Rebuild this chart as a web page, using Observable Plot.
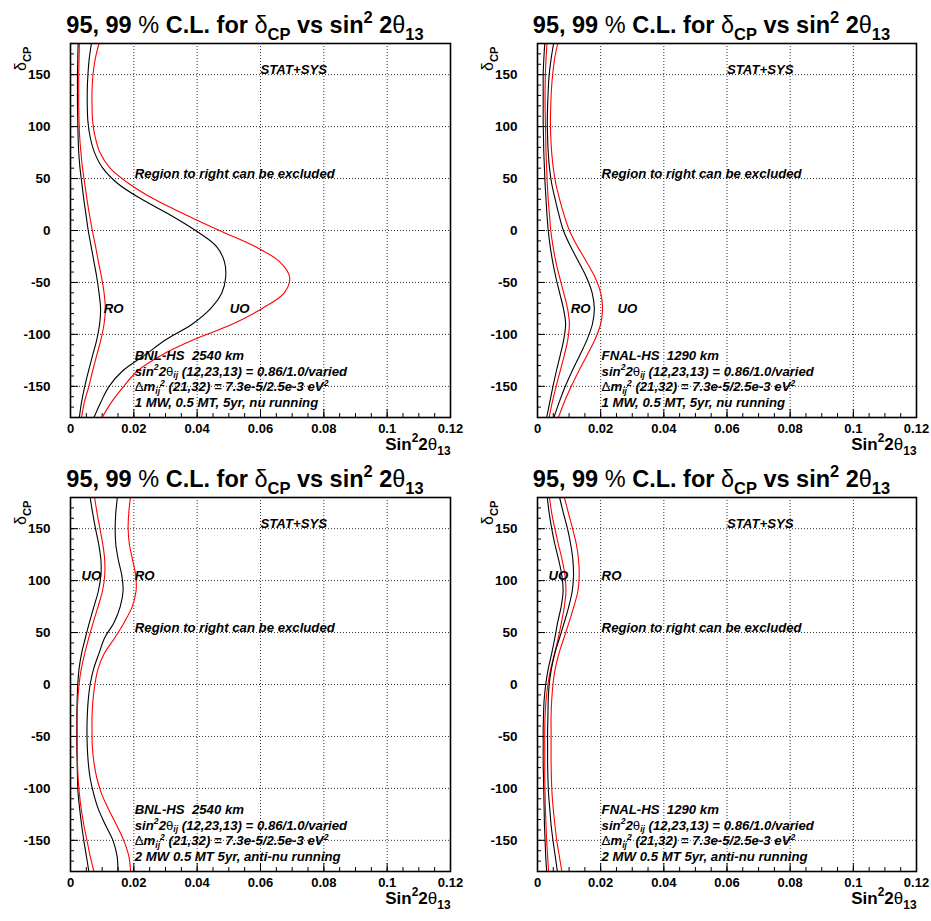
<!DOCTYPE html>
<html><head><meta charset="utf-8">
<script src="https://cdn.jsdelivr.net/npm/d3@7"></script>
<script src="https://cdn.jsdelivr.net/npm/@observablehq/plot@0.6"></script>
<style>
html,body{margin:0;padding:0;background:#fff;}
#root{position:relative;width:931px;height:921px;overflow:hidden;background:#fff;}
#root svg{position:absolute;overflow:visible;}
</style></head><body><div id="root"></div>
<script>
// ---- data (x = sin^2 2theta13 at each deltaCP) ----
const deltaCP = [180,165,150,135,120,105,90,75,60,45,30,15,0,-15,-30,-45,-60,-75,-90,-105,-120,-135,-150,-165,-180];

const bnlNuRO95 = [0.0024,0.0023,0.0022,0.0022,0.0022,0.0023,0.0024,0.0026,0.0030,0.0036,0.0042,0.0049,0.0056,0.0065,0.0074,0.0083,0.0090,0.0095,0.0092,0.0083,0.0070,0.0057,0.0045,0.0035,0.0028];
const bnlNuRO99 = [0.0028,0.0027,0.0026,0.0026,0.0026,0.0027,0.0029,0.0033,0.0038,0.0045,0.0052,0.0060,0.0069,0.0079,0.0088,0.0098,0.0106,0.0110,0.0106,0.0096,0.0083,0.0070,0.0058,0.0044,0.0035];
const bnlNuUO95 = [0.0066,0.0059,0.0055,0.0053,0.0053,0.0055,0.0062,0.0076,0.0102,0.0150,0.0225,0.0315,0.0395,0.0460,0.0486,0.0490,0.0478,0.0443,0.0385,0.0302,0.0234,0.0165,0.0122,0.0096,0.0074];
const bnlNuUO99 = [0.0090,0.0078,0.0071,0.0068,0.0068,0.0070,0.0078,0.0093,0.0125,0.0185,0.0265,0.0365,0.0470,0.0580,0.0660,0.0692,0.0675,0.0605,0.0512,0.0390,0.0287,0.0212,0.0168,0.0130,0.0100];

const fnalNuRO95 = [0.0023,0.0020,0.0018,0.0018,0.0018,0.0018,0.0019,0.0020,0.0022,0.0024,0.0027,0.0030,0.0034,0.0040,0.0048,0.0058,0.0070,0.0082,0.0089,0.0083,0.0072,0.0060,0.0049,0.0039,0.0029];
const fnalNuRO99 = [0.0030,0.0027,0.0025,0.0024,0.0024,0.0025,0.0026,0.0027,0.0029,0.0031,0.0034,0.0038,0.0042,0.0049,0.0058,0.0070,0.0083,0.0095,0.0101,0.0096,0.0085,0.0072,0.0059,0.0047,0.0037];
const fnalNuUO95 = [0.0051,0.0043,0.0037,0.0034,0.0032,0.0031,0.0032,0.0034,0.0038,0.0045,0.0056,0.0068,0.0082,0.0104,0.0130,0.0155,0.0173,0.0180,0.0174,0.0157,0.0134,0.0110,0.0088,0.0069,0.0052];
const fnalNuUO99 = [0.0064,0.0054,0.0048,0.0044,0.0042,0.0041,0.0042,0.0045,0.0050,0.0058,0.0070,0.0084,0.0101,0.0126,0.0155,0.0182,0.0200,0.0206,0.0200,0.0182,0.0157,0.0131,0.0107,0.0085,0.0066];

const bnlAntiUO95 = [0.0062,0.0070,0.0079,0.0089,0.0096,0.0096,0.0088,0.0074,0.0060,0.0047,0.0035,0.0027,0.0023,0.0021,0.0020,0.0020,0.0020,0.0021,0.0022,0.0024,0.0029,0.0035,0.0042,0.0050,0.0058];
const bnlAntiUO99 = [0.0076,0.0084,0.0093,0.0102,0.0108,0.0108,0.0101,0.0087,0.0072,0.0058,0.0045,0.0034,0.0027,0.0023,0.0021,0.0021,0.0021,0.0022,0.0024,0.0028,0.0034,0.0042,0.0052,0.0062,0.0074];
const bnlAntiRO95 = [0.0148,0.0143,0.0141,0.0143,0.0151,0.0162,0.0166,0.0157,0.0138,0.0108,0.0090,0.0073,0.0062,0.0056,0.0053,0.0052,0.0053,0.0056,0.0062,0.0073,0.0088,0.0110,0.0134,0.0147,0.0150];
const bnlAntiRO99 = [0.0189,0.0184,0.0182,0.0186,0.0196,0.0206,0.0207,0.0195,0.0170,0.0140,0.0107,0.0087,0.0077,0.0071,0.0068,0.0068,0.0069,0.0074,0.0083,0.0098,0.0120,0.0145,0.0168,0.0184,0.0190];

const fnalAntiUO95 = [0.0031,0.0037,0.0045,0.0055,0.0067,0.0077,0.0081,0.0075,0.0064,0.0055,0.0045,0.0034,0.0026,0.0021,0.0019,0.0018,0.0018,0.0018,0.0019,0.0020,0.0021,0.0022,0.0024,0.0026,0.0029];
const fnalAntiUO99 = [0.0038,0.0045,0.0055,0.0066,0.0078,0.0087,0.0090,0.0085,0.0076,0.0066,0.0054,0.0042,0.0033,0.0027,0.0024,0.0023,0.0023,0.0023,0.0023,0.0024,0.0025,0.0027,0.0029,0.0032,0.0035];
const fnalAntiRO95 = [0.0070,0.0082,0.0095,0.0105,0.0112,0.0114,0.0110,0.0099,0.0085,0.0070,0.0055,0.0044,0.0037,0.0034,0.0033,0.0032,0.0032,0.0032,0.0033,0.0035,0.0039,0.0043,0.0049,0.0056,0.0063];
const fnalAntiRO99 = [0.0085,0.0098,0.0111,0.0123,0.0130,0.0132,0.0128,0.0115,0.0100,0.0084,0.0068,0.0056,0.0049,0.0045,0.0043,0.0043,0.0043,0.0043,0.0044,0.0046,0.0050,0.0055,0.0061,0.0069,0.0077];

// ---- ticks and labels ----
const xTicks = [0, 0.02, 0.04, 0.06, 0.08, 0.1, 0.12];
const yTicks = [-150, -100, -50, 0, 50, 100, 150];
const xGrid = [0.02, 0.04, 0.06, 0.08, 0.1];
const yGrid = [-150, -100, -50, 0, 50, 100, 150];
const xMinor = d3.range(1, 24).map(i => +(i * 0.005).toFixed(3));
const yMinor = d3.range(-17, 18).map(i => i * 10);

const titleLabel = "95, 99 !{%} C.L. for !{δ}_{CP} vs sin^{2} 2!{θ}_{13}";
const xLabel = "Sin^{2}2!{θ}_{13}";
const yLabel = "!{δ}_{CP}";
const statLabel = "STAT+SYS";
const regionLabel = "Region to right can be excluded";
const mixLine = "sin^{2}2!{θ}_{ij} (12,23,13) = 0.86/1.0/varied";
const massLine = "!{Δ}m_{ij}^{2} (21,32) = 7.3e-5/2.5e-3 eV^{2}";
const bnlLine = "BNL-HS  2540 km";
const fnalLine = "FNAL-HS  1290 km";
const nuLine = "1 MW, 0.5 MT, 5yr, nu running";
const antiLine = "2 MW 0.5 MT 5yr, anti-nu running";

const panels = [
  {left: 0, top: 0, width: 465, height: 460, ml: 70, mr: 15, mt: 43, mb: 43,
   curves: [[bnlNuRO95, "black"], [bnlNuRO99, "red"], [bnlNuUO95, "black"], [bnlNuUO99, "red"]],
   tags: [{x: 0.0105, y: -75.6, t: "RO"}, {x: 0.0503, y: -75.6, t: "UO"}],
   site: bnlLine, run: nuLine},
  {left: 465, top: 0, width: 466, height: 460, ml: 72, mr: 15, mt: 43, mb: 43,
   curves: [[fnalNuRO95, "black"], [fnalNuRO99, "red"], [fnalNuUO95, "black"], [fnalNuUO99, "red"]],
   tags: [{x: 0.0105, y: -75.6, t: "RO"}, {x: 0.0253, y: -75.6, t: "UO"}],
   site: fnalLine, run: nuLine},
  {left: 0, top: 460, width: 465, height: 461, ml: 70, mr: 15, mt: 37, mb: 50,
   curves: [[bnlAntiUO95, "black"], [bnlAntiUO99, "red"], [bnlAntiRO95, "black"], [bnlAntiRO99, "red"]],
   tags: [{x: 0.0035, y: 104.5, t: "UO"}, {x: 0.0203, y: 104.5, t: "RO"}],
   site: bnlLine, run: antiLine},
  {left: 465, top: 460, width: 466, height: 461, ml: 72, mr: 15, mt: 37, mb: 50,
   curves: [[fnalAntiUO95, "black"], [fnalAntiUO99, "red"], [fnalAntiRO95, "black"], [fnalAntiRO99, "red"]],
   tags: [{x: 0.0035, y: 104.5, t: "UO"}, {x: 0.0203, y: 104.5, t: "RO"}],
   site: fnalLine, run: antiLine}
];

const FONT = "'Liberation Sans', Arimo, Arial, Helvetica, sans-serif";

function drawPanel(p) {
  const fw = p.width - p.ml - p.mr, fh = p.height - p.mt - p.mb;
  const notes = [
    {x: 0.06, y: 154.5, t: statLabel},
    {x: 0.0203, y: 54.5, t: regionLabel},
    ...p.tags,
    {x: 0.0203, y: -121, t: p.site},
    {x: 0.0203, y: -135.5, t: mixLine},
    {x: 0.0203, y: -150.5, t: massLine},
    {x: 0.0203, y: -166, t: p.run}
  ];
  const marks = [
    Plot.ruleX(xGrid, {x: d => d, stroke: "#000", strokeOpacity: 0.8, strokeDasharray: "1,2"}),
    Plot.ruleY(yGrid, {y: d => d, stroke: "#000", strokeOpacity: 0.8, strokeDasharray: "1,2"}),
    Plot.tickX(xMinor, {x: d => d, insetTop: fh - 4, stroke: "#000"}),
    Plot.tickX(xTicks, {x: d => d, insetTop: fh - 8, stroke: "#000"}),
    Plot.tickY(yMinor, {y: d => d, insetRight: fw - 4, stroke: "#000"}),
    Plot.tickY(yTicks, {y: d => d, insetRight: fw - 8, stroke: "#000"}),
    ...p.curves.map(([vals, color]) =>
      Plot.line(deltaCP.map((y, i) => ({x: vals[i], y})),
        {x: "x", y: "y", stroke: color, strokeWidth: 1.1, curve: "catmull-rom"})),
    Plot.frame({stroke: "#000", strokeWidth: 1.6}),
    Plot.axisX(xTicks, {tickSize: 0, tickPadding: 6, tickFormat: d => String(d), fontSize: 13, fontWeight: "bold", label: null}),
    Plot.axisY(yTicks, {tickSize: 0, tickPadding: 20, tickFormat: d => String(d), fontSize: 13.5, fontWeight: "bold", label: null}),
    Plot.text(notes, {x: "x", y: "y", text: "t", textAnchor: "start", fontSize: 13.2, fontWeight: "bold", fontStyle: "italic", fill: "#000"}),
    Plot.text([titleLabel], {text: d => d, frameAnchor: "top", dx: -15.5, dy: -27, fontSize: 23.5, fontWeight: "bold", fill: "#000"}),
    Plot.text([xLabel], {text: d => d, frameAnchor: "bottom-right", textAnchor: "end", dy: 32, fontSize: 17, fontWeight: "bold", fill: "#000"}),
    Plot.text([yLabel], {text: d => d, frameAnchor: "top-left", rotate: -90, textAnchor: "end", dx: -56, dy: 3, fontSize: 16, fontWeight: "bold", fill: "#000"})
  ];
  const svg = Plot.plot({
    width: p.width, height: p.height,
    marginLeft: p.ml, marginRight: p.mr, marginTop: p.mt, marginBottom: p.mb,
    x: {domain: [0, 0.12]},
    y: {domain: [-180, 180]},
    style: {fontFamily: FONT, color: "#000", background: "transparent", overflow: "visible"},
    marks
  });
  svg.style.left = p.left + "px";
  svg.style.top = p.top + "px";
  return svg;
}

// convert ^{..} superscripts, _{..} subscripts and !{..} plain-weight runs into tspans
function richify(svg) {
  const NS = "http://www.w3.org/2000/svg";
  svg.querySelectorAll("text").forEach(el => {
    const s = el.textContent;
    if (!/[\^_!]\{/.test(s) || el.querySelector("tspan")) return;
    const base = parseFloat(getComputedStyle(el).fontSize) || 13;
    const small = base < 15;
    const re = /([\^_!])\{([^}]*)\}/g;
    const parts = [];
    let last = 0, m;
    while ((m = re.exec(s))) {
      if (m.index > last) parts.push({t: s.slice(last, m.index), k: ""});
      parts.push({t: m[2], k: m[1]});
      last = re.lastIndex;
    }
    if (last < s.length) parts.push({t: s.slice(last), k: ""});
    el.textContent = "";
    let shift = 0;
    for (const q of parts) {
      const ts = document.createElementNS(NS, "tspan");
      let target = 0;
      if (q.k === "^") { target = -(small ? 0.38 : 0.45) * base; ts.setAttribute("font-size", (base * (small ? 0.65 : 0.7)).toFixed(2)); }
      else if (q.k === "_") { target = (small ? 0.22 : 0.3) * base; ts.setAttribute("font-size", (base * (small ? 0.65 : 0.7)).toFixed(2)); }
      else if (q.k === "!") { ts.setAttribute("font-weight", "normal"); ts.setAttribute("font-style", "normal"); }
      if (target - shift !== 0) ts.setAttribute("dy", (target - shift).toFixed(2));
      shift = target;
      ts.textContent = q.t;
      el.appendChild(ts);
    }
  });
}

const root = document.getElementById("root");
for (const p of panels) {
  const svg = drawPanel(p);
  root.appendChild(svg);
  richify(svg);
}
</script>
</body></html>
